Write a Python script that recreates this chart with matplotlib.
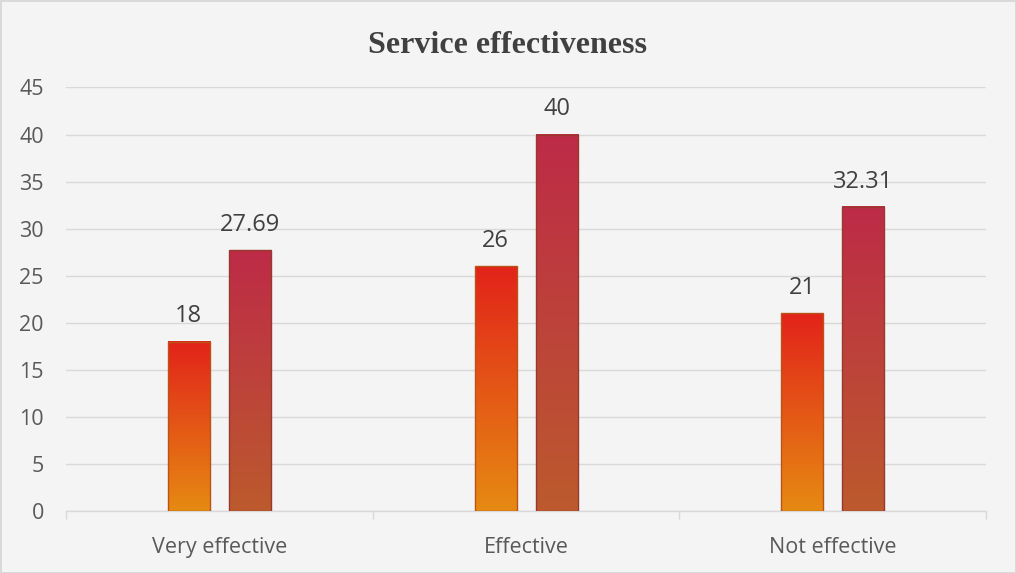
import matplotlib
matplotlib.use("Agg")
import matplotlib.pyplot as plt
from matplotlib.colors import LinearSegmentedColormap
import numpy as np

categories = ["Very effective", "Effective", "Not effective"]
series_a = [18, 26, 21]
series_b = [27.69, 40, 32.31]
y_ticks = [0, 5, 10, 15, 20, 25, 30, 35, 40, 45]

# top colour, bottom colour, edge colour
style_a = ("#e2231a", "#e68a12", "#b8541a")
style_b = ("#be2b47", "#bc5a2d", "#963a2e")

bg = "#f4f4f4"
grid_c = "#d9d9d9"
text_c = "#595959"

fig = plt.figure(figsize=(10.16, 5.73), dpi=100)
fig.patch.set_facecolor(bg)
fig.patch.set_edgecolor(grid_c)
fig.patch.set_linewidth(2)
ax = fig.add_axes([0.065, 0.1082, 0.9055, 0.7391])
ax.set_facecolor(bg)

x = np.arange(len(categories))
width = 0.137
offset = 0.0995
grad = np.linspace(0, 1, 256).reshape(-1, 1)


def gradient_bars(xs, values, style):
    top, bottom, edge = style
    cmap = LinearSegmentedColormap.from_list("g", [bottom, top])
    bars = ax.bar(xs, values, width=width, facecolor="none",
                  edgecolor=edge, linewidth=1.0, zorder=4)
    for b in bars:
        x0, y0 = b.get_x(), b.get_y()
        ax.imshow(grad, cmap=cmap, origin="lower", aspect="auto",
                  extent=[x0, x0 + b.get_width(), y0, y0 + b.get_height()],
                  zorder=3)
    for xi, v in zip(xs, values):
        ax.annotate(f"{v:g}", (xi, v), xytext=(0, 9.5), textcoords="offset points",
                    ha="center", va="bottom", fontsize=17, color="#404040",
                    family="Open Sans")
    return bars


gradient_bars(x - offset, series_a, style_a)
gradient_bars(x + offset, series_b, style_b)

ax.set_xlim(-0.5, len(categories) - 0.5)
ax.set_ylim(0, 45)
ax.set_yticks(y_ticks)
ax.yaxis.grid(True, color=grid_c, linewidth=1)
ax.set_axisbelow(True)
ax.tick_params(axis="y", length=0, pad=16, labelsize=15.5, labelcolor=text_c)
for lab in ax.get_yticklabels():
    lab.set_family("Open Sans")

# category labels in the middle, tick marks on the boundaries
ax.set_xticks(x)
ax.set_xticklabels(categories, fontsize=15.5, color=text_c, family="Open Sans")
ax.tick_params(axis="x", which="major", length=0, pad=19)
ax.set_xticks(np.arange(-0.5, len(categories)), minor=True)
ax.tick_params(axis="x", which="minor", length=6, color=grid_c, width=1)

for s in ["top", "right", "left"]:
    ax.spines[s].set_visible(False)
ax.spines["bottom"].set_color(grid_c)
ax.spines["bottom"].set_linewidth(1)

fig.text(0.5, 0.92, "Service effectiveness", ha="center", va="center",
         fontsize=23, fontweight="bold", color="#404040",
         family="Liberation Serif")

fig.savefig("out.png", dpi=100, facecolor=bg, edgecolor=grid_c)
